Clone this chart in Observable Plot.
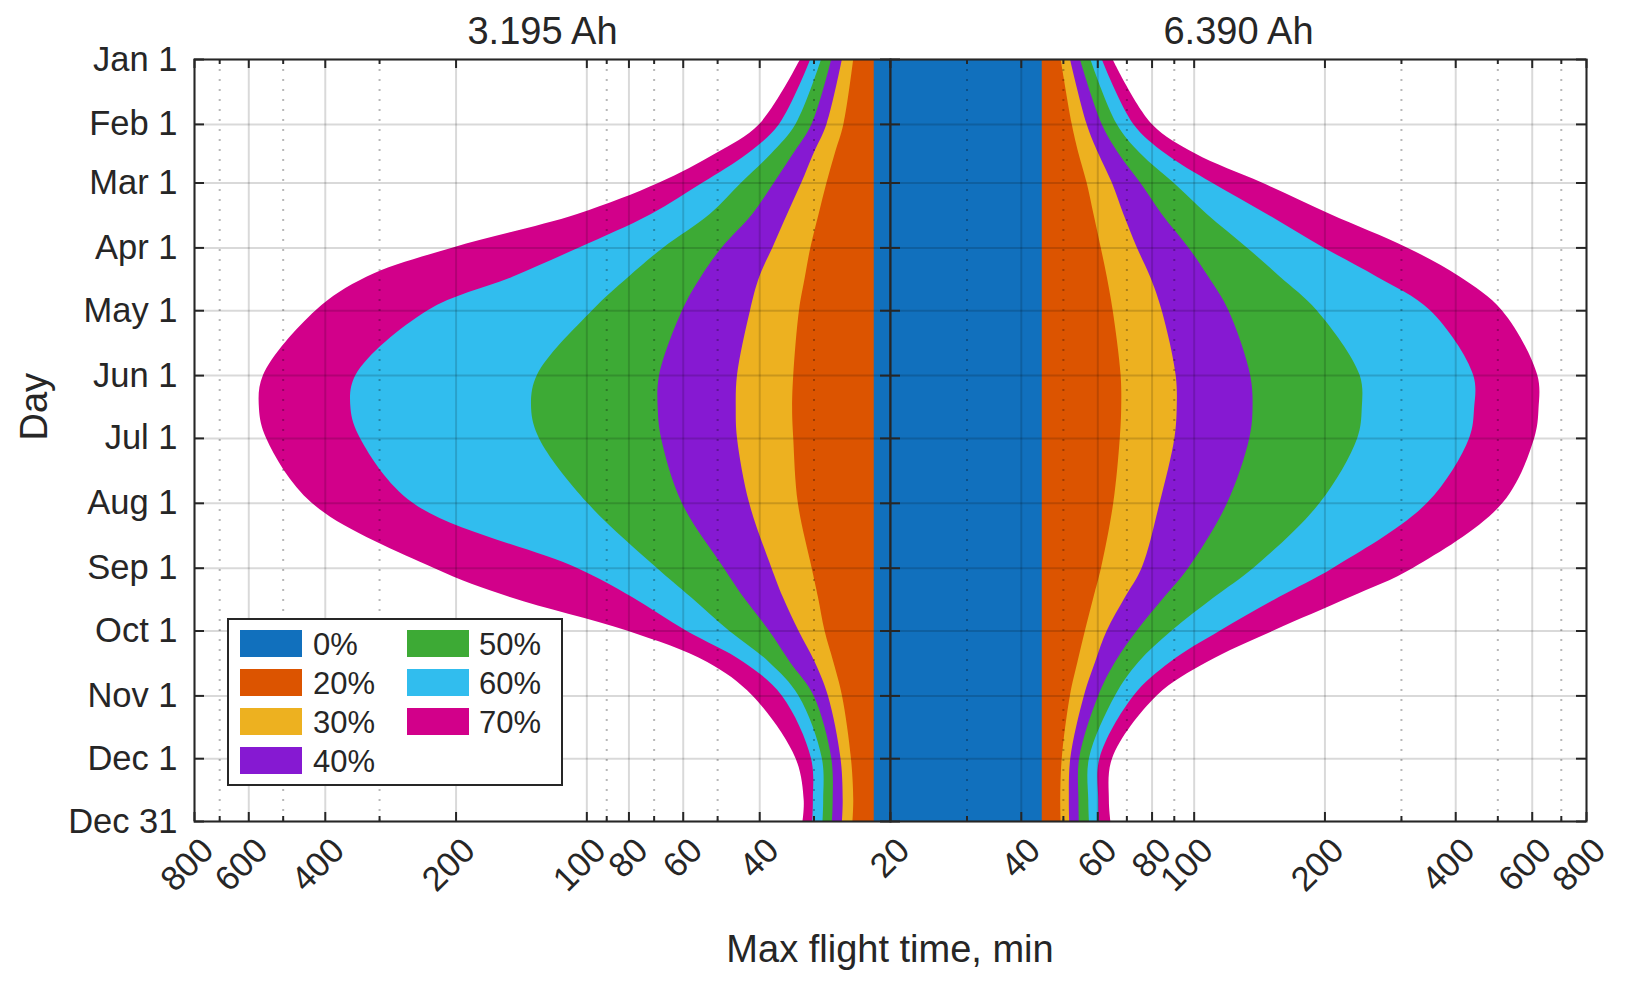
<!DOCTYPE html>
<html>
<head>
<meta charset="utf-8">
<script src="https://cdn.jsdelivr.net/npm/d3@7"></script>
<script src="https://cdn.jsdelivr.net/npm/@observablehq/plot@0.6"></script>
<style>
  body { margin: 0; background: #fff; }
  #chart { position: relative; width: 1629px; height: 987px; font-family: "Liberation Sans", Arial, Helvetica, sans-serif; color: #262626; }
  #chart svg { position: absolute; top: 0; }
  .lbl { position: absolute; white-space: nowrap; line-height: 1; }
</style>
</head>
<body>
<div id="chart"></div>
<script>
// ---- data (day of year, max flight time in minutes) ----
const days = [1, 32, 46, 60, 75, 91, 105, 121, 152, 168, 182, 213, 244, 258, 274, 289, 305, 335, 355, 365];
const seriesNames = ["0%", "20%", "30%", "40%", "50%", "60%", "70%"];
const seriesColors = ["#1170BD", "#DC5400", "#EDB120", "#8619D2", "#3DAA35", "#31BDEE", "#D2008A"];

// 3.195 Ah
const small0  = [21.8, 21.8, 21.8, 21.8, 21.8, 21.8, 21.8, 21.8, 21.8, 21.8, 21.8, 21.8, 21.8, 21.8, 21.8, 21.8, 21.8, 21.8, 21.8, 21.8];
const small20 = [24.3, 25.6, 26.8, 28.0, 29.2, 30.5, 31.4, 32.4, 33.4, 33.6, 33.4, 32.6, 30.3, 29.3, 28.3, 27.0, 25.8, 24.6, 24.3, 24.4];
const small30 = [25.8, 28.0, 30.0, 32.0, 34.5, 37.3, 40.0, 42.0, 45.0, 45.3, 45.0, 42.2, 37.5, 35.3, 32.5, 29.8, 27.8, 26.0, 25.7, 25.8];
const small40 = [27.3, 30.3, 33.4, 37.0, 41.5, 48.8, 54.5, 60.2, 68.0, 68.5, 67.3, 60.3, 48.3, 43.5, 38.0, 34.0, 30.0, 27.3, 27.1, 27.2];
const small50 = [28.8, 33.0, 37.5, 44.0, 52.0, 66.5, 80.0, 97.0, 130, 134, 128.6, 99.5, 68.9, 57.5, 47.0, 38.0, 32.5, 28.7, 28.5, 28.6];
const small60 = [30.5, 36.0, 42.5, 54.0, 71.0, 104, 148, 232, 340, 349, 332, 251, 105.3, 78.5, 59.0, 43.5, 35.5, 30.4, 30.1, 30.2];
const small70 = [32.2, 40.0, 50.4, 68.0, 105, 203, 321, 420, 555, 567, 546, 429, 225, 150, 80.7, 52.7, 41.5, 33.0, 31.6, 31.8];

// 6.390 Ah
const big0  = [44.7, 44.7, 44.7, 44.7, 44.7, 44.7, 44.7, 44.7, 44.7, 44.7, 44.7, 44.7, 44.7, 44.7, 44.7, 44.7, 44.7, 44.7, 44.7, 44.7];
const big20 = [49.4, 52.4, 54.3, 56.7, 58.8, 61.1, 63.1, 65.1, 67.9, 68.1, 67.6, 65.3, 61.2, 58.8, 56.2, 54.0, 51.9, 49.7, 49.3, 49.4];
const big30 = [51.9, 56.7, 60.3, 64.8, 68.9, 74.0, 79.4, 84.4, 90.9, 91.4, 90.3, 83.5, 75.9, 69.5, 63.1, 59.3, 55.9, 52.0, 51.6, 51.7];
const big40 = [54.7, 61.4, 67.1, 75.3, 84.4, 97.2, 108.1, 120.2, 134.9, 136.6, 134.3, 119.4, 97.2, 85.5, 74.0, 65.9, 60.3, 54.5, 54.3, 54.4];
const big50 = [57.8, 66.5, 75.3, 89.8, 107.2, 132.5, 158, 191.9, 241, 243.7, 238, 195, 137.3, 111.5, 89.0, 74.6, 65.9, 57.4, 57.2, 57.4];
const big60 = [61.4, 72.6, 85.9, 110, 147.3, 198.9, 264, 350, 440, 442, 430.6, 344.5, 209.5, 157, 115, 88.2, 72.7, 60.7, 60.3, 60.4];
const big70 = [65.0, 80.1, 100.6, 143.5, 206, 309.5, 410, 512, 618, 622, 608, 514, 320, 229, 152.6, 107.2, 82.2, 64.9, 63.8, 64.3];

// ticks
const monthDays = [1, 32, 60, 91, 121, 152, 182, 213, 244, 274, 305, 335, 365];
const monthLabels = ["Jan 1", "Feb 1", "Mar 1", "Apr 1", "May 1", "Jun 1", "Jul 1", "Aug 1", "Sep 1", "Oct 1", "Nov 1", "Dec 1", "Dec 31"];
const majorTicks = [20, 40, 60, 80, 100, 200, 400, 600, 800];
const minorTicks = [30, 50, 70, 90, 300, 500, 700];
const leftTickLabels = [800, 600, 400, 200, 100, 80, 60, 40];
const rightTickLabels = [20, 40, 60, 80, 100, 200, 400, 600, 800];
const titles = ["3.195 Ah", "6.390 Ah"];

const FONT = '"Liberation Sans", Arial, Helvetica, sans-serif';
const INK = "#262626";

function panel(series, isLeft, title) {
  const W = isLeft ? 900 : 749;
  const mL = isLeft ? 194 : 10;
  const mR = isLeft ? 10 : 43;
  const FW = W - mL - mR;
  const FH = 762;
  const marks = [];
  // nested bars, widest first
  for (let s = series.length - 1; s >= 0; s--) {
    const data = days.map((d, i) => ({day: d, value: series[s][i]}));
    marks.push(Plot.areaX(data, {y: "day", x1: 20, x2: "value", fill: seriesColors[s], curve: "catmull-rom", clip: true}));
  }
  // grid
  marks.push(Plot.ruleY(monthDays, {y: d => d, stroke: "#000", strokeOpacity: 0.15, strokeWidth: 2}));
  marks.push(Plot.ruleX(majorTicks, {x: d => d, stroke: "#000", strokeOpacity: 0.15, strokeWidth: 2}));
  marks.push(Plot.ruleX(minorTicks, {x: d => d, stroke: "#000", strokeOpacity: 0.28, strokeWidth: 2, strokeDasharray: "2,8"}));
  // ticks (inward, all sides)
  marks.push(Plot.tickX(majorTicks, {x: d => d, insetTop: FH - 9, stroke: INK, strokeWidth: 2}));
  marks.push(Plot.tickX(majorTicks, {x: d => d, insetBottom: FH - 9, stroke: INK, strokeWidth: 2}));
  marks.push(Plot.tickX(minorTicks, {x: d => d, insetTop: FH - 5, stroke: INK, strokeWidth: 2}));
  marks.push(Plot.tickX(minorTicks, {x: d => d, insetBottom: FH - 5, stroke: INK, strokeWidth: 2}));
  marks.push(Plot.tickY(monthDays, {y: d => d, insetRight: FW - 10, stroke: INK, strokeWidth: 2}));
  marks.push(Plot.tickY(monthDays, {y: d => d, insetLeft: FW - 10, stroke: INK, strokeWidth: 2}));
  marks.push(Plot.frame({stroke: INK, strokeWidth: 2}));
  // x tick labels
  marks.push(Plot.text(isLeft ? leftTickLabels : rightTickLabels, {
    x: d => d, frameAnchor: "bottom", text: d => String(d), rotate: -45,
    textAnchor: "end", dx: 21, dy: 31, fontSize: 34.5, fill: INK
  }));
  // title
  marks.push(Plot.text([title], {frameAnchor: "top", text: d => d, dy: -16, lineAnchor: "bottom", fontSize: 38, fill: INK}));
  if (isLeft) {
    marks.push(Plot.text(monthDays, {x: 800, y: d => d, text: (d, i) => monthLabels[i], textAnchor: "end", dx: -17, fontSize: 34.5, fill: INK}));
    marks.push(Plot.text(["Day"], {frameAnchor: "left", text: d => d, rotate: -90, dx: -160, fontSize: 38, fill: INK}));
  }
  const svg = Plot.plot({
    width: W, height: 987,
    marginLeft: mL, marginRight: mR, marginTop: 59, marginBottom: 166,
    x: {type: "log", domain: [20, 800], reverse: isLeft, axis: null},
    y: {domain: [1, 365], reverse: true, axis: null},
    style: {fontFamily: FONT, color: INK, background: "transparent", overflow: "visible"},
    marks
  });
  svg.style.left = (isLeft ? 0 : 880) + "px";
  return svg;
}

const chart = document.getElementById("chart");
chart.appendChild(panel([small0, small20, small30, small40, small50, small60, small70], true, titles[0]));
chart.appendChild(panel([big0, big20, big30, big40, big50, big60, big70], false, titles[1]));

// x axis label
const xl = document.createElement("div");
xl.className = "lbl";
xl.textContent = "Max flight time, min";
xl.style.cssText += "left:590px;width:600px;text-align:center;top:930px;font-size:38px;";
chart.appendChild(xl);

// legend
const box = document.createElement("div");
box.style.cssText = "position:absolute;left:227px;top:618px;width:332px;height:164px;border:2px solid " + INK + ";background:#fff;";
chart.appendChild(box);
seriesNames.forEach((name, i) => {
  const col = i < 4 ? 0 : 1;
  const row = i < 4 ? i : i - 4;
  const sw = document.createElement("div");
  sw.style.cssText = `position:absolute;left:${240 + col * 167}px;top:${630 + row * 39}px;width:62px;height:27px;background:${seriesColors[i]};`;
  chart.appendChild(sw);
  const t = document.createElement("div");
  t.className = "lbl";
  t.textContent = name;
  t.style.cssText += `left:${313 + col * 166}px;top:${628.5 + row * 39}px;font-size:31px;`;
  chart.appendChild(t);
});
</script>
</body>
</html>
